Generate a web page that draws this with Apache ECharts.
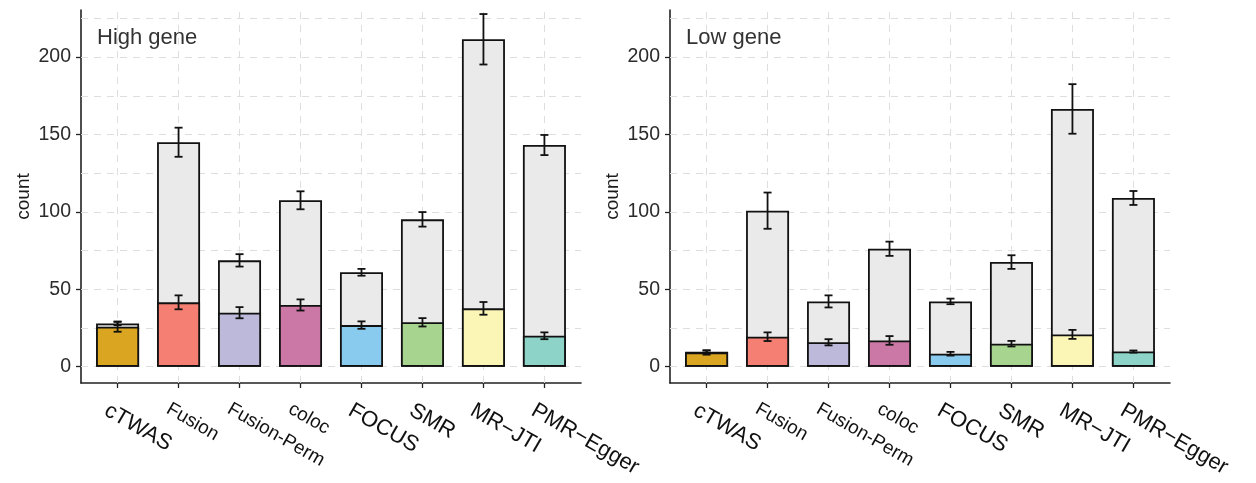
<!DOCTYPE html>
<html>
<head>
<meta charset="utf-8">
<script src="https://cdn.jsdelivr.net/npm/echarts@6/dist/echarts.min.js"></script>
<style>
  html, body { margin: 0; padding: 0; background: #ffffff; }
  #main { width: 1256px; height: 483px; }
</style>
</head>
<body>
<div id="main"></div>
<script>
// ---- data ----
const categories = ['cTWAS', 'Fusion', 'Fusion-Perm', 'coloc', 'FOCUS', 'SMR', 'MR\u2212JTI', 'PMR\u2212Egger'];
const panelTitles = ['High gene', 'Low gene'];
const yTicks = [0, 50, 100, 150, 200];
const gridYValues = [0, 25, 50, 75, 100, 125, 150, 175, 200, 225];

const highTotal    = [28.0, 145.0, 68.7, 107.5, 61.0, 95.2, 211.5, 143.2];
const highTotalErr = [1.2, 9.4, 4.0, 5.8, 2.2, 4.7, 16.3, 6.5];
const highPos      = [25.8, 41.6, 34.9, 39.9, 26.9, 28.7, 37.7, 20.0];
const highPosErr   = [3.2, 4.5, 3.6, 3.6, 2.4, 2.7, 4.1, 2.2];

const lowTotal     = [9.7, 100.8, 42.2, 76.2, 42.2, 67.6, 166.5, 109.0];
const lowTotalErr  = [0.8, 11.7, 3.9, 4.6, 1.8, 4.4, 16.0, 4.5];
const lowPos       = [9.2, 19.4, 15.8, 17.0, 8.4, 14.9, 20.9, 9.8];
const lowPosErr    = [1.4, 2.8, 2.0, 2.8, 1.2, 1.8, 2.9, 0.7];

const colors = ['#DAA520', '#F47F72', '#BDB9DA', '#CC78A6', '#89CBEF', '#A7D58F', '#FBF6B5', '#8DD3C7'];
const bigLabel = [true, false, false, false, true, true, true, true];

// ---- chart ----
const FONT = '"Liberation Sans", Arial, sans-serif';
const chart = echarts.init(document.getElementById('main'));
const catIdx = categories.map((c, i) => i);

function errData(mean, err) {
  return mean.map((m, i) => [i, m - err[i], m + err[i]]);
}

function renderErr(params, api) {
  const x = api.value(0);
  const top = api.coord([x, api.value(2)]);
  const bot = api.coord([x, api.value(1)]);
  const hw = 4;
  const st = { stroke: '#111111', lineWidth: 1.8 };
  return {
    type: 'group',
    children: [
      { type: 'line', shape: { x1: top[0], y1: top[1], x2: bot[0], y2: bot[1] }, style: st },
      { type: 'line', shape: { x1: top[0] - hw, y1: top[1], x2: top[0] + hw, y2: top[1] }, style: st },
      { type: 'line', shape: { x1: bot[0] - hw, y1: bot[1], x2: bot[0] + hw, y2: bot[1] }, style: st }
    ]
  };
}

const grids = [];
const xAxes = [];
const yAxes = [];
const series = [];
const titles = [];
const panels = [
  { total: highTotal, totalErr: highTotalErr, pos: highPos, posErr: highPosErr, left: 81 },
  { total: lowTotal, totalErr: lowTotalErr, pos: lowPos, posErr: lowPosErr, left: 670 }
];

panels.forEach((p, k) => {
  grids.push({ left: p.left, top: 10, width: 500, height: 373 });
  titles.push({
    text: panelTitles[k], left: p.left + 16, top: 27, padding: 0,
    textStyle: { fontSize: 22, fontWeight: 'normal', color: '#333333', fontFamily: FONT }
  });
  xAxes.push({
    type: 'value', gridIndex: k, min: -0.6, max: 7.6,
    axisLine: { show: true, onZero: false, lineStyle: { color: '#222222', width: 1.6 } },
    axisTick: { show: true, customValues: catIdx, length: 5, lineStyle: { color: '#222222', width: 1.3 } },
    splitLine: { show: false },
    axisLabel: {
      customValues: catIdx, rotate: -30, align: 'left', verticalAlign: 'top', margin: 6,
      formatter: (v) => {
        const i = Math.round(v);
        return '{' + (bigLabel[i] ? 'b' : 's') + '|' + categories[i] + '}';
      },
      rich: {
        b: { fontSize: 22, color: '#111111', fontFamily: FONT, padding: [12, 0, 0, 0] },
        s: { fontSize: 19, color: '#111111', fontFamily: FONT, padding: [12, 0, 0, 0] }
      }
    }
  });
  yAxes.push({
    type: 'value', gridIndex: k, min: -10.5, max: 230.4,
    name: 'count', nameLocation: 'middle', nameGap: 48, nameRotate: 90,
    nameTextStyle: { fontSize: 19, color: '#1a1a1a', fontFamily: FONT },
    axisLine: { show: true, onZero: false, lineStyle: { color: '#222222', width: 1.6 } },
    axisTick: { show: true, customValues: yTicks, length: 5, lineStyle: { color: '#222222', width: 1.3 } },
    axisLabel: { customValues: yTicks, fontSize: 19.5, color: '#2b2b2b', margin: 10, fontFamily: FONT },
    splitLine: { show: false }
  });
  // background dashed grid lines
  series.push({
    type: 'line', xAxisIndex: k, yAxisIndex: k, data: [], z: 1, silent: true,
    markLine: {
      silent: true, symbol: 'none', z: 1, animation: false,
      label: { show: false },
      lineStyle: { type: [7, 6], color: '#dedede', width: 1 },
      data: gridYValues.map(v => ({ yAxis: v })).concat(catIdx.map(i => ({ xAxis: i })))
    }
  });
  series.push({
    type: 'bar', xAxisIndex: k, yAxisIndex: k, z: 3, barWidth: 43, barGap: '-100%',
    data: p.total.map((v, i) => [i, v]),
    itemStyle: { color: '#EAEAEA', borderColor: '#111111', borderWidth: 1.8 },
    animation: false
  });
  series.push({
    type: 'bar', xAxisIndex: k, yAxisIndex: k, z: 4, barWidth: 43, barGap: '-100%',
    data: p.pos.map((v, i) => ({ value: [i, v], itemStyle: { color: colors[i] } })),
    itemStyle: { borderColor: '#111111', borderWidth: 1.8 },
    animation: false
  });
  series.push({
    type: 'custom', xAxisIndex: k, yAxisIndex: k, z: 5,
    renderItem: renderErr, data: errData(p.total, p.totalErr), animation: false
  });
  series.push({
    type: 'custom', xAxisIndex: k, yAxisIndex: k, z: 5,
    renderItem: renderErr, data: errData(p.pos, p.posErr), animation: false
  });
});

chart.setOption({
  animation: false,
  backgroundColor: '#ffffff',
  title: titles,
  grid: grids,
  xAxis: xAxes,
  yAxis: yAxes,
  series: series
});
</script>
</body>
</html>
